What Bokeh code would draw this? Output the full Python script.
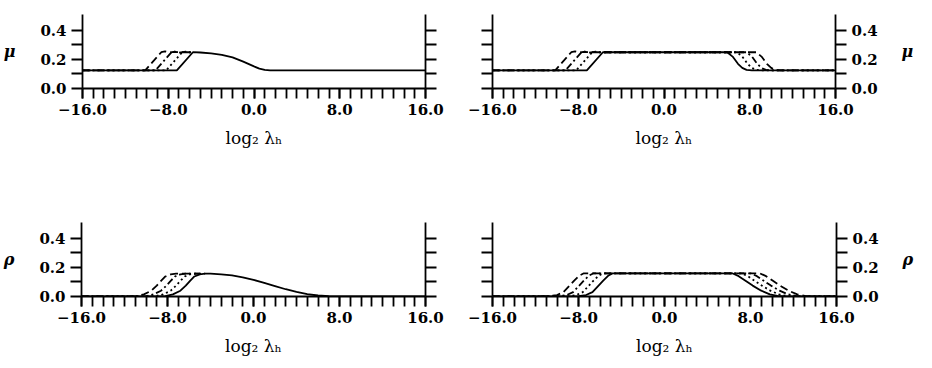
from bokeh.plotting import figure
from bokeh.models import Range1d, LinearAxis, FixedTicker
from bokeh.layouts import column, row
from bokeh.embed import file_html
from bokeh.resources import INLINE

# ---------------- ticks / labels ----------------
X_TICKS = [-16, -8, 0, 8, 16]
X_TICK_LABELS = ["\u221216.0", "\u22128.0", "0.0", "8.0", "16.0"]
X_MINOR = list(range(-16, 17))
Y_TICKS = [0.0, 0.2, 0.4]
Y_TICK_LABELS = ["0.0", "0.2", "0.4"]
Y_MINOR = [0.1, 0.3]
X_LABEL = "log\u2082 \u03bb\u2095"
MU_LABEL = "\u03bc"
RHO_LABEL = "\u03c1"

# ---------------- panel a : mu, left ----------------
mu_a_solid_x = [-16, -7.2, -5.7, -5.0, -4.0, -3.0, -2.0, -1.0, 0.0, 0.5, 1.0, 1.5, 16]
mu_a_solid_y = [0.125, 0.125, 0.25, 0.248, 0.242, 0.232, 0.215, 0.185, 0.152, 0.137, 0.128, 0.125, 0.125]
mu_a_dot_x = [-16, -8.2, -6.7, -6.4, -6.1, -5.7]
mu_a_dot_y = [0.125, 0.125, 0.25, 0.254, 0.247, 0.25]
mu_a_dashdot_x = [-16, -9.2, -7.7, -7.4, -7.0, -6.5, -5.7]
mu_a_dashdot_y = [0.125, 0.125, 0.25, 0.255, 0.247, 0.252, 0.25]
mu_a_dash_x = [-16, -10.15, -8.65, -8.3, -7.9, -7.5, -7.0, -5.7]
mu_a_dash_y = [0.125, 0.125, 0.25, 0.256, 0.248, 0.253, 0.25, 0.25]

# ---------------- panel b : mu, right ----------------
mu_b_solid_x = [-16, -7.2, -5.7, 5.9, 6.4, 6.9, 7.3, 7.7, 8.2, 16]
mu_b_solid_y = [0.125, 0.125, 0.25, 0.25, 0.22, 0.17, 0.142, 0.128, 0.125, 0.125]
mu_b_dot_x = [-16, -8.2, -6.7, -6.4, -6.1, -5.7, 5.9, 6.8, 7.3, 7.8, 8.2, 8.6, 9.1, 16]
mu_b_dot_y = [0.125, 0.125, 0.25, 0.254, 0.247, 0.25, 0.25, 0.25, 0.22, 0.17, 0.142, 0.128, 0.125, 0.125]
mu_b_dashdot_x = [-16, -9.2, -7.7, -7.4, -7.0, -6.5, -5.7, 5.9, 7.7, 8.2, 8.7, 9.1, 9.5, 10.0, 16]
mu_b_dashdot_y = [0.125, 0.125, 0.25, 0.255, 0.247, 0.252, 0.25, 0.25, 0.25, 0.22, 0.17, 0.142, 0.128, 0.125, 0.125]
mu_b_dash_x = [-16, -10.15, -8.65, -8.3, -7.9, -7.5, -7.0, 5.9, 8.6, 9.1, 9.6, 10.0, 10.4, 10.9, 16]
mu_b_dash_y = [0.125, 0.125, 0.25, 0.256, 0.248, 0.253, 0.25, 0.25, 0.25, 0.22, 0.17, 0.142, 0.128, 0.125, 0.125]

# ---------------- panel c : rho, left ----------------
rho_c_solid_x = [-16, -9.0, -8.2, -7.5, -6.8, -6.3, -5.9, -5.5, -5.0, -4.5, -4.0, -3.0, -2.0, -1.0,
                 0.0, 1.0, 2.0, 3.0, 4.0, 5.0, 6.0, 7.0, 8.0, 16]
rho_c_solid_y = [0.0, 0.0, 0.003, 0.015, 0.04, 0.075, 0.108, 0.138, 0.153, 0.157, 0.157, 0.153, 0.145, 0.132,
                 0.115, 0.094, 0.072, 0.05, 0.032, 0.017, 0.007, 0.002, 0.0, 0.0]
rho_c_dot_x = [-16, -9.9, -9.1, -8.4, -7.7, -7.2, -6.8, -6.4, -5.9, -5.4, -4.5]
rho_c_dot_y = [0.0, 0.0, 0.003, 0.015, 0.04, 0.075, 0.108, 0.138, 0.153, 0.157, 0.157]
rho_c_dashdot_x = [-16, -10.8, -10.0, -9.3, -8.6, -8.1, -7.7, -7.3, -6.8, -6.3, -5.0]
rho_c_dashdot_y = [0.0, 0.0, 0.003, 0.015, 0.04, 0.075, 0.108, 0.138, 0.153, 0.157, 0.157]
rho_c_dash_x = [-16, -11.7, -10.9, -10.2, -9.5, -9.0, -8.6, -8.2, -7.7, -7.2, -5.0]
rho_c_dash_y = [0.0, 0.0, 0.003, 0.015, 0.04, 0.075, 0.108, 0.138, 0.153, 0.157, 0.157]

# ---------------- panel d : rho, right ----------------
rho_d_solid_x = [-16, -9.0, -8.0, -7.3, -6.7, -6.2, -5.7, -5.2, -4.8, 6.3, 6.9, 7.5, 8.2, 9.0, 9.8, 10.5, 11.2, 16]
rho_d_solid_y = [0.0, 0.0, 0.003, 0.01, 0.03, 0.07, 0.11, 0.145, 0.16, 0.16, 0.14, 0.11, 0.075, 0.04, 0.015, 0.004, 0.0, 0.0]
rho_d_dot_x = [-16, -9.9, -8.9, -8.2, -7.6, -7.1, -6.6, -6.1, -5.7, 7.15, 7.75, 8.35, 9.05, 9.85, 10.65, 11.35, 12.05, 16]
rho_d_dot_y = [0.0, 0.0, 0.003, 0.01, 0.03, 0.07, 0.11, 0.145, 0.16, 0.16, 0.14, 0.11, 0.075, 0.04, 0.015, 0.004, 0.0, 0.0]
rho_d_dashdot_x = [-16, -10.8, -9.8, -9.1, -8.5, -8.0, -7.5, -7.0, -6.6, 8.0, 8.6, 9.2, 9.9, 10.7, 11.5, 12.2, 12.9, 16]
rho_d_dashdot_y = [0.0, 0.0, 0.003, 0.01, 0.03, 0.07, 0.11, 0.145, 0.16, 0.16, 0.14, 0.11, 0.075, 0.04, 0.015, 0.004, 0.0, 0.0]
rho_d_dash_x = [-16, -11.7, -10.7, -10.0, -9.4, -8.9, -8.4, -7.9, -7.5, 8.85, 9.45, 10.05, 10.75, 11.55, 12.35, 13.05, 13.75, 16]
rho_d_dash_y = [0.0, 0.0, 0.003, 0.01, 0.03, 0.07, 0.11, 0.145, 0.16, 0.16, 0.14, 0.11, 0.075, 0.04, 0.015, 0.004, 0.0, 0.0]

# ---------------- styling ----------------
FONT = "DejaVu Serif"
TICK_LEN = 10
AX_W = 1.8
STYLES = {"solid": "solid", "dot": "2 3", "dashdot": "7 3 2 3", "dash": "8 4"}


def style_axis(ax):
    ax.major_tick_in = 0
    ax.minor_tick_in = 0
    ax.major_label_standoff = 5
    ax.major_label_text_font = FONT
    ax.major_label_text_font_style = "bold"
    ax.major_label_text_font_size = "15px"
    ax.major_label_text_color = "black"
    ax.axis_line_width = AX_W
    ax.major_tick_line_width = AX_W
    ax.minor_tick_line_width = AX_W
    ax.axis_line_color = "black"
    ax.major_tick_line_color = "black"
    ax.minor_tick_line_color = "black"


def y_axis(labelled, label, standoff):
    if labelled:
        ax = LinearAxis(ticker=FixedTicker(ticks=Y_TICKS, minor_ticks=Y_MINOR),
                        major_label_overrides=dict(zip(Y_TICKS, Y_TICK_LABELS)),
                        axis_label=label)
        ax.axis_label_orientation = "horizontal"
        ax.axis_label_text_font = FONT
        ax.axis_label_text_font_style = "bold italic"
        ax.axis_label_text_font_size = "16px"
        ax.axis_label_text_color = "black"
        ax.axis_label_standoff = standoff
    else:
        ax = LinearAxis(ticker=FixedTicker(ticks=[], minor_ticks=Y_TICKS + Y_MINOR))
    style_axis(ax)
    ax.major_tick_out = TICK_LEN + 1
    ax.minor_tick_out = TICK_LEN + 1
    return ax


def x_axis():
    ax = LinearAxis(ticker=FixedTicker(ticks=X_TICKS, minor_ticks=X_MINOR),
                    major_label_overrides=dict(zip(X_TICKS, X_TICK_LABELS)),
                    axis_label=X_LABEL)
    style_axis(ax)
    ax.major_tick_out = TICK_LEN
    ax.minor_tick_out = TICK_LEN
    ax.axis_label_text_font = FONT
    ax.axis_label_text_font_style = "normal"
    ax.axis_label_text_font_size = "17px"
    ax.axis_label_text_color = "black"
    ax.axis_label_standoff = 10
    return ax


# layout geometry (pixels)
TOP_H, BOT_H = 222, 138
FRAME_H = 74


def panel(curves, label, left_side, top_row):
    if left_side:
        W, bl, br = 451, 80, 26
    else:
        W, bl, br = 465, 41, 76
    H = TOP_H if top_row else BOT_H
    bt = 14 if top_row else 0
    bb = H - bt - FRAME_H
    p = figure(width=W, height=H, x_range=Range1d(-16, 16), y_range=Range1d(0, 0.51),
               output_backend="svg", toolbar_location=None,
               x_axis_location=None, y_axis_location=None,
               min_border_left=bl, min_border_right=br,
               min_border_top=bt, min_border_bottom=bb)
    p.outline_line_color = None
    p.xgrid.visible = False
    p.ygrid.visible = False
    p.background_fill_color = "white"
    p.border_fill_color = "white"
    p.add_layout(x_axis(), "below")
    p.add_layout(y_axis(left_side, label, 22), "left")
    p.add_layout(y_axis(not left_side, label, 21), "right")
    for style, (xs, ys) in curves.items():
        p.line(xs, ys, line_color="black", line_width=1.8, line_dash=STYLES[style])
    return p


p1 = panel({"dash": (mu_a_dash_x, mu_a_dash_y), "dashdot": (mu_a_dashdot_x, mu_a_dashdot_y),
            "dot": (mu_a_dot_x, mu_a_dot_y), "solid": (mu_a_solid_x, mu_a_solid_y)},
           MU_LABEL, True, True)
p2 = panel({"dash": (mu_b_dash_x, mu_b_dash_y), "dashdot": (mu_b_dashdot_x, mu_b_dashdot_y),
            "dot": (mu_b_dot_x, mu_b_dot_y), "solid": (mu_b_solid_x, mu_b_solid_y)},
           MU_LABEL, False, True)
p3 = panel({"dash": (rho_c_dash_x, rho_c_dash_y), "dashdot": (rho_c_dashdot_x, rho_c_dashdot_y),
            "dot": (rho_c_dot_x, rho_c_dot_y), "solid": (rho_c_solid_x, rho_c_solid_y)},
           RHO_LABEL, True, False)
p4 = panel({"dash": (rho_d_dash_x, rho_d_dash_y), "dashdot": (rho_d_dashdot_x, rho_d_dashdot_y),
            "dot": (rho_d_dot_x, rho_d_dot_y), "solid": (rho_d_solid_x, rho_d_solid_y)},
           RHO_LABEL, False, False)

layout = column(row(p1, p2), row(p3, p4))
open("out.html", "w").write(file_html(layout, INLINE))
